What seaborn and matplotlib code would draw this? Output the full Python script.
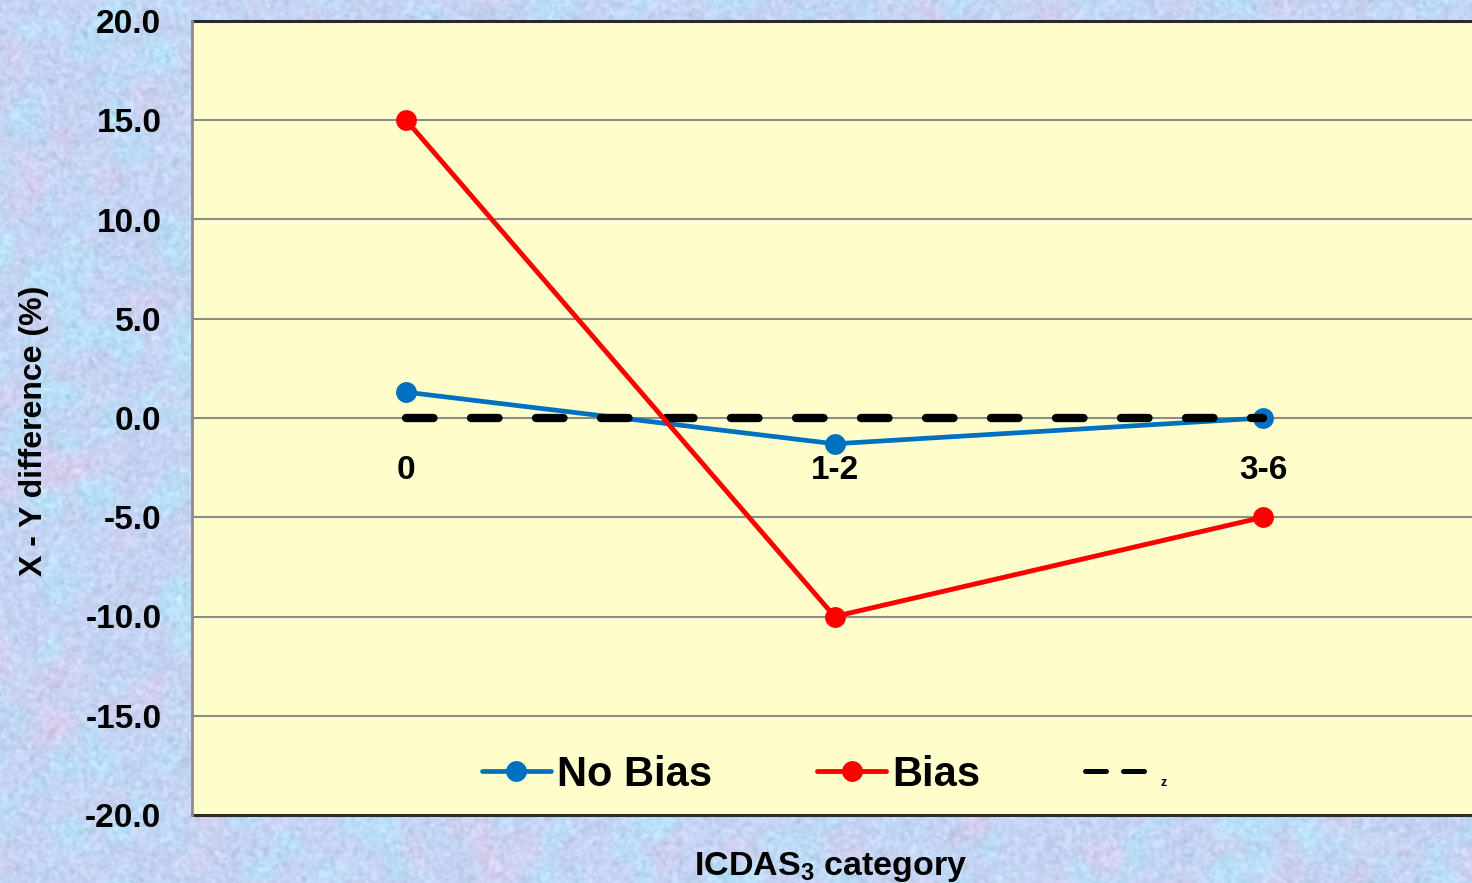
import numpy as np
import pandas as pd
import matplotlib
matplotlib.use("Agg")
import matplotlib.pyplot as plt
from matplotlib.lines import Line2D
import seaborn as sns

# ---- data ----
categories = ["0", "1-2", "3-6"]
no_bias = [1.3, -1.3, 0.0]
bias = [15.0, -10.0, -5.0]
z_ref = [0.0, 0.0, 0.0]
y_ticks = [-20, -15, -10, -5, 0, 5, 10, 15, 20]
y_tick_labels = [f"{v:.1f}" for v in y_ticks]

sns.set_style("white")
plt.rcParams["font.family"] = ["Liberation Sans", "DejaVu Sans"]
plt.rcParams["font.weight"] = "bold"
plt.rcParams["text.color"] = "black"
plt.rcParams["xtick.labelcolor"] = "black"
plt.rcParams["ytick.labelcolor"] = "black"
plt.rcParams["mathtext.fontset"] = "custom"
plt.rcParams["mathtext.rm"] = "Liberation Sans:bold"
plt.rcParams["mathtext.bf"] = "Liberation Sans:bold"
plt.rcParams["mathtext.default"] = "bf"

W, H = 1472, 883
fig = plt.figure(figsize=(W / 100, H / 100), dpi=100)

# ---- mottled backdrop ----
rng = np.random.default_rng(11)
fy = np.fft.fftfreq(H)[:, None]
fx = np.fft.fftfreq(W)[None, :]


def smooth_noise(scale):
    n = rng.standard_normal((H, W))
    g = np.exp(-(fx ** 2 + fy ** 2) * (2 * np.pi * scale) ** 2 / 2)
    out = np.real(np.fft.ifft2(np.fft.fft2(n) * g))
    return out / out.std()


base = np.array([0.77, 0.83, 0.95])
cyan = np.array([0.72, 0.88, 0.97])
pink = np.array([0.86, 0.80, 0.93])
c = np.clip(smooth_noise(10) * 0.35 + 0.15, 0, 1)[..., None]
p = np.clip(smooth_noise(12) * 0.3 - 0.05, 0, 1)[..., None]
grain = smooth_noise(1.5)[..., None] * 0.02
img = base * (1 - c) + cyan * c
img = img * (1 - p) + pink * p
img = np.clip(img + grain, 0, 1)

bg = fig.add_axes([0, 0, 1, 1], zorder=0)
bg.imshow(img, aspect="auto", interpolation="bilinear")
bg.axis("off")

# ---- main axes ----
left, right = 192 / W, 1.0
bottom, top = 1 - 815 / H, 1 - 21 / H
ax = fig.add_axes([left, bottom, right - left, top - bottom], zorder=1)
ax.set_facecolor("#FFFFCC")

grid_col = "#8C8C8C"
edge_col = "#2A2A2A"

sns.lineplot(x=categories, y=no_bias, ax=ax, color="#0070C0", lw=3.4,
             marker="o", markersize=15, markeredgewidth=0, zorder=3,
             label="No Bias", legend=False)
sns.lineplot(x=categories, y=z_ref, ax=ax, color="black", lw=6,
             dashes=False, zorder=4, label="z", legend=False)
sns.lineplot(x=categories, y=bias, ax=ax, color="#FF0000", lw=3.5,
             marker="o", markersize=15, markeredgewidth=0, zorder=5,
             label="Bias", legend=False)

zline = ax.lines[1]
zline.set_linestyle((0, (3.3, 4.5)))
zline.set_dash_capstyle("round")

ax.set_xlim(-0.5, (1472 - 406) / 428.5)
ax.set_ylim(-20, 20)

# horizontal gridlines
for v in y_ticks[1:-1]:
    if v != 0:
        ax.axhline(v, color=grid_col, lw=1.5, zorder=1)
ax.axhline(20, color=edge_col, lw=2.2, zorder=2, clip_on=False)
ax.axhline(-20, color=edge_col, lw=2.2, zorder=2, clip_on=False)

for s in ["top", "right"]:
    ax.spines[s].set_visible(False)
ax.spines["left"].set_color(grid_col)
ax.spines["left"].set_linewidth(2)
ax.spines["bottom"].set_position(("data", 0))
ax.spines["bottom"].set_color(grid_col)
ax.spines["bottom"].set_linewidth(1.5)

ax.set_yticks(y_ticks)
ax.set_yticklabels(y_tick_labels)
ax.tick_params(axis="y", direction="out", length=6, width=1.5, color=grid_col,
               pad=16, labelsize=24)

ax.set_xticks([0, 1, 2])
ax.set_xticklabels(categories)
ax.set_xticks([0.5, 1.5], minor=True)
ax.tick_params(axis="x", which="major", length=0, pad=27, labelsize=24)
ax.tick_params(axis="x", which="minor", direction="out", length=6, width=1.5,
               color=grid_col)
for lab in ax.get_xticklabels() + ax.get_yticklabels():
    lab.set_fontweight("bold")
    lab.set_color("black")

ax.set_xlabel("")
ax.set_ylabel("")
fig.text(34 / W, 1 - 431 / H, "X - Y difference (%)", rotation=90,
         ha="center", va="center", fontsize=23, fontweight="bold",
         color="black")
fig.text(831 / W, 1 - 875 / H, r"ICDAS$_3$ category", ha="center",
         va="baseline", fontsize=24.5, fontweight="bold", color="black")

# ---- legend ----
h_nb = Line2D([], [], color="#0070C0", lw=3.4, marker="o", markersize=15,
              markeredgewidth=0)
h_b = Line2D([], [], color="#FF0000", lw=3.5, marker="o", markersize=15,
             markeredgewidth=0)
h_z = Line2D([], [], color="black", lw=3.6, linestyle=(0, (4.2, 3.4)),
             dash_capstyle="round")
leg = ax.legend([h_nb, h_b, h_z], ["No Bias", "Bias", "z"], ncol=3,
                loc="center", bbox_to_anchor=(0.494, 0.051), frameon=False,
                fontsize=30, handlelength=1.67, handletextpad=0.15,
                columnspacing=2.5, numpoints=1)
for t in leg.get_texts():
    t.set_fontweight("bold")
    t.set_color("black")
leg.get_texts()[2].set_fontsize(9)

fig.savefig("out.png", dpi=100)
